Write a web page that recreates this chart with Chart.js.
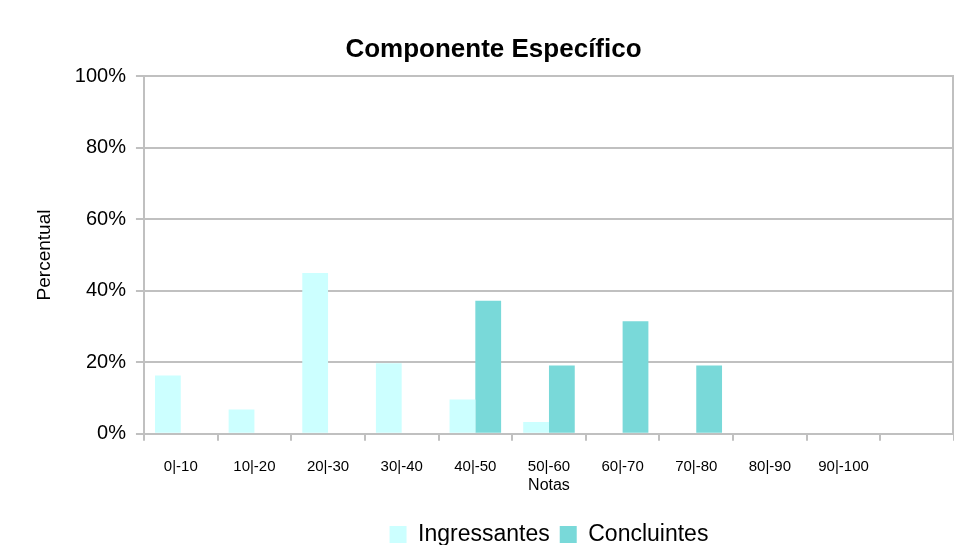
<!DOCTYPE html>
<html>
<head>
<meta charset="utf-8">
<script src="https://cdn.jsdelivr.net/npm/chart.js@4"></script>
<style>
  html, body { margin: 0; padding: 0; background: #fff; }
  #wrap { width: 954px; height: 545px; position: relative; }
</style>
</head>
<body>
<div id="wrap"><canvas id="chart"></canvas></div>
<script>
const categories = ['0|-10', '10|-20', '20|-30', '30|-40', '40|-50', '50|-60', '60|-70', '70|-80', '80|-90', '90|-100', ''];
const ingressantes = [16.3, 6.8, 45, 19.7, 9.6, 3.3, 0, 0, 0, 0, null];
const concluintes = [0, 0, 0, 0, 37.2, 19.1, 31.5, 19.1, 0, 0, null];
const yTicks = [0, 20, 40, 60, 80, 100];

const FONT = "'Liberation Sans', Arial, sans-serif";
const GRID = '#c0c0c0';

// Excel draws a line on the right edge of the plot area
const rightEdge = {
  id: 'rightEdge',
  afterDraw(chart) {
    const { ctx, chartArea } = chart;
    ctx.save();
    ctx.strokeStyle = GRID;
    ctx.lineWidth = 2;
    ctx.beginPath();
    ctx.moveTo(chartArea.right - 1, chartArea.top);
    ctx.lineTo(chartArea.right - 1, chartArea.bottom);
    ctx.stroke();
    ctx.restore();
  }
};

new Chart(document.getElementById('chart'), {
  type: 'bar',
  data: {
    labels: categories,
    datasets: [
      { label: 'Ingressantes', data: ingressantes, backgroundColor: '#ccffff', borderWidth: 0 },
      { label: 'Concluintes', data: concluintes, backgroundColor: '#79d9d9', borderWidth: 0 }
    ]
  },
  options: {
    responsive: true,
    maintainAspectRatio: false,
    animation: false,
    layout: { padding: { left: 33, right: 0, top: 34, bottom: -11 } },
    datasets: { bar: { barPercentage: 1, categoryPercentage: 0.7 } },
    plugins: {
      title: {
        display: true,
        text: 'Componente Específico',
        color: '#000',
        font: { family: FONT, size: 26, weight: 'bold' },
        padding: { top: 0, bottom: 11 }
      },
      legend: {
        position: 'bottom',
        fullSize: false,
        labels: {
          color: '#000',
          font: { family: FONT, size: 23, lineHeight: 1 },
          boxWidth: 17,
          boxHeight: 17,
          padding: 10
        }
      },
      tooltip: { enabled: false }
    },
    scales: {
      x: {
        grid: { offset: true, drawOnChartArea: false, color: GRID, lineWidth: 2, tickLength: 7 },
        border: { color: GRID, width: 2 },
        ticks: { color: '#000', font: { family: FONT, size: 15 }, padding: 17, maxRotation: 0, autoSkip: false },
        title: { display: true, text: 'Notas', color: '#000', font: { family: FONT, size: 16 }, padding: { top: -17, bottom: 18 } }
      },
      y: {
        min: 0,
        max: 100,
        afterBuildTicks(scale) { scale.ticks = yTicks.map(v => ({ value: v })); },
        grid: { color: GRID, lineWidth: 2, tickLength: 8 },
        border: { color: GRID, width: 2 },
        ticks: { color: '#000', font: { family: FONT, size: 20 }, padding: 10, callback: v => v + '%' },
        title: { display: true, text: 'Percentual', color: '#000', font: { family: FONT, size: 19 }, padding: { top: 0, bottom: 9 } }
      }
    }
  },
  plugins: [rightEdge]
});
</script>
</body>
</html>
